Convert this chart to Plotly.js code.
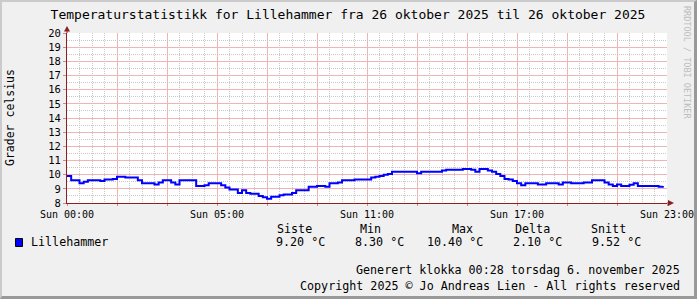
<!DOCTYPE html>
<html>
<head>
<meta charset="utf-8">
<script src="https://cdn.plot.ly/plotly-3.0.1.min.js"></script>
<style>
  html, body { margin: 0; padding: 0; background: #f0f0f0; }
  #wrap { position: absolute; left: 0; top: 0; width: 697px; height: 299px; box-sizing: border-box;
          border-left: 2px solid #cbcbcb; border-top: 2px solid #cbcbcb;
          border-right: 3px solid #999999; border-bottom: 3px solid #999999; background: #f0f0f0; overflow: visible; }
  #chart { width: 692px; height: 294px; overflow: visible; }
  #chart svg { overflow: visible; }
</style>
</head>
<body>
<div id="wrap"><div id="chart"></div></div>
<script>
// ---- data ----
const seriesName = 'Lillehammer';
const sampleMinutes = 10; // one sample every 10 minutes, starting Sun 00:00
const temps = [
  9.9, 9.6, 9.6, 9.4, 9.5, 9.6, 9.6, 9.6, 9.55, 9.65,
  9.65, 9.7, 9.85, 9.85, 9.8, 9.8, 9.8, 9.6, 9.4, 9.4,
  9.4, 9.3, 9.45, 9.6, 9.6, 9.45, 9.3, 9.6, 9.6, 9.6,
  9.6, 9.2, 9.2, 9.25, 9.4, 9.4, 9.4, 9.25, 9.1, 8.95,
  8.95, 8.7, 8.9, 8.7, 8.65, 8.65, 8.5, 8.4, 8.3, 8.45,
  8.45, 8.55, 8.6, 8.6, 8.7, 8.9, 8.9, 8.9, 9.15, 9.15,
  9.2, 9.2, 9.15, 9.4, 9.4, 9.45, 9.6, 9.6, 9.6, 9.65,
  9.65, 9.65, 9.65, 9.8, 9.85, 9.9, 10.0, 10.05, 10.2, 10.2,
  10.2, 10.2, 10.2, 10.2, 10.1, 10.2, 10.2, 10.2, 10.2, 10.2,
  10.3, 10.35, 10.35, 10.35, 10.35, 10.4, 10.4, 10.35, 10.2, 10.4,
  10.4, 10.3, 10.2, 10.05, 9.9, 9.7, 9.65, 9.55, 9.4, 9.25,
  9.4, 9.4, 9.4, 9.3, 9.3, 9.4, 9.4, 9.4, 9.3, 9.45,
  9.45, 9.4, 9.4, 9.4, 9.45, 9.45, 9.6, 9.6, 9.6, 9.45,
  9.3, 9.2, 9.3, 9.2, 9.2, 9.28, 9.4, 9.2, 9.2, 9.2,
  9.2, 9.2, 9.15, 9.2
];
const xLabelHours = [0, 6, 12, 18, 24];
const xLabels = ['Sun 00:00', 'Sun 05:00', 'Sun 11:00', 'Sun 17:00', 'Sun 23:00'];
const statNames = ['Siste', 'Min', 'Max', 'Delta', 'Snitt'];
const statValues = [9.20, 8.30, 10.40, 2.10, 9.52];
const titleText = 'Temperaturstatistikk for Lillehammer fra 26 oktober 2025 til 26 oktober 2025';
const yTitle = 'Grader celsius';
const footer1 = 'Generert klokka 00:28 torsdag 6. november 2025';
const footer2 = 'Copyright 2025 © Jo Andreas Lien - All rights reserved';
const sideText = 'RRDTOOL / TOBI OETIKER';

// ---- build ----
const hours = temps.map((_, i) => i * sampleMinutes / 60);
const majorX = [], majorXText = [], minorX = [];
for (let q = 0; q <= 48; q++) {
  const h = q / 2;
  if (q % 4 === 0) {
    majorX.push(h);
    const k = xLabelHours.indexOf(h);
    majorXText.push(k >= 0 ? xLabels[k] : '');
  } else {
    minorX.push(h);
  }
}
const majorY = [], minorY = [];
for (let q = 16; q <= 40; q++) {
  if (q % 2 === 0) majorY.push(q / 2); else minorY.push(q / 2);
}

const FONT = 'DejaVu Sans Mono';
const AX = '#8a2020';
const MGRID = '#efb4b4';
const GRID = '#c8c8c8';
const DASH = '1px,1px';

// page pixel -> paper coords (plot area: x 67..667, y 33..203 on page)
const px = x => (x - 67) / 600;
const py = y => (203 - y) / 170;

const ann = [];
function txt(text, x, y, xanchor, size, extra) {
  ann.push(Object.assign({
    text: text, xref: 'paper', yref: 'paper', x: px(x), y: py(y),
    xanchor: xanchor, yanchor: 'middle', showarrow: false,
    font: {family: FONT, size: size, color: '#000'}
  }, extra || {}));
}
txt(yTitle, 10, 118, 'center', 11.5, {textangle: -90});
txt(sideText, 687, 62, 'center', 8.5, {textangle: 90, font: {family: FONT, size: 8.5, color: '#bdbdbd'}});
txt(seriesName, 29, 242, 'left', 11.7);
const headX = [275, 358, 450, 513, 589];
const valRight = [327, 406, 485, 564, 643];
statNames.forEach((n, i) => txt(n, headX[i], 229, 'left', 11.7));
statValues.forEach((v, i) => txt(v.toFixed(2) + ' °C', valRight[i], 242, 'right', 11.7));
txt(footer1, 682, 270, 'right', 11.7);
txt(footer2, 682, 286, 'right', 11.7);

const shapes = [
  // legend swatch
  {type: 'rect', xref: 'paper', yref: 'paper', x0: px(15.5), x1: px(22.5), y0: py(246.5), y1: py(238.5),
   fillcolor: '#0000ff', line: {color: '#000', width: 1}},
  // y axis extension + arrow
  {type: 'line', xref: 'paper', yref: 'paper', x0: 0, x1: 0, y0: 1, y1: py(29), line: {color: AX, width: 1}},
  {type: 'path', xref: 'paper', yref: 'paper',
   path: `M ${px(64)} ${py(31.5)} L ${px(67)} ${py(26)} L ${px(70)} ${py(31.5)} Z`, fillcolor: AX, line: {color: AX, width: 0}},
  // x axis extension + arrow
  {type: 'line', xref: 'paper', yref: 'paper', x0: 1, x1: px(669), y0: 0, y1: 0, line: {color: AX, width: 1}},
  {type: 'path', xref: 'paper', yref: 'paper',
   path: `M ${px(668)} ${py(200)} L ${px(674)} ${py(203)} L ${px(668)} ${py(206)} Z`, fillcolor: AX, line: {color: AX, width: 0}}
];

const gridCarrier = {x: [], y: [], type: 'scatter', mode: 'lines', xaxis: 'x2', yaxis: 'y2',
                     hoverinfo: 'skip', showlegend: false};
const trace = {
  x: hours, y: temps, type: 'scatter', mode: 'lines', name: seriesName,
  line: {color: '#0000ff', width: 2, shape: 'hv'}, hoverinfo: 'skip', showlegend: false
};

const layout = {
  width: 692, height: 294,
  margin: {l: 65, r: 27, t: 31, b: 93, pad: 0},
  paper_bgcolor: '#f0f0f0', plot_bgcolor: '#ffffff',
  showlegend: false,
  title: {text: titleText, x: 0.5, xref: 'container', xanchor: 'center',
          y: 1 - 12 / 294, yref: 'container', yanchor: 'middle',
          font: {family: FONT, size: 13, color: '#000'}},
  xaxis: {
    range: [0, 24], tickmode: 'array', tickvals: majorX, ticktext: majorXText,
    showgrid: true, gridcolor: MGRID, griddash: 'solid', gridwidth: 1,
    showline: true, linecolor: AX, linewidth: 1, zeroline: false,
    ticks: 'outside', ticklen: 2, tickcolor: '#e08080', ticklabeloverflow: 'allow',
    tickfont: {family: FONT, size: 10, color: '#000'}, fixedrange: true
  },
  yaxis: {
    range: [8, 20], tickmode: 'array', tickvals: majorY, ticktext: majorY.map(String),
    showgrid: true, gridcolor: MGRID, griddash: 'solid', gridwidth: 1,
    showline: true, linecolor: AX, linewidth: 1, zeroline: false,
    ticks: 'outside', ticklen: 3, tickcolor: '#e08080',
    tickfont: {family: FONT, size: 10.5, color: '#000'}, fixedrange: true
  },
  xaxis2: {
    overlaying: 'x', range: [0, 24], tickmode: 'array', tickvals: minorX,
    showgrid: true, gridcolor: GRID, griddash: DASH, gridwidth: 1,
    showticklabels: false, ticks: '', showline: false, zeroline: false, fixedrange: true
  },
  yaxis2: {
    overlaying: 'y', range: [8, 20], tickmode: 'array', tickvals: minorY,
    showgrid: true, gridcolor: GRID, griddash: DASH, gridwidth: 1,
    showticklabels: false, ticks: '', showline: false, zeroline: false, fixedrange: true
  },
  annotations: ann,
  shapes: shapes
};

Plotly.newPlot('chart', [gridCarrier, trace], layout, {staticPlot: true, displayModeBar: false});
</script>
</body>
</html>
